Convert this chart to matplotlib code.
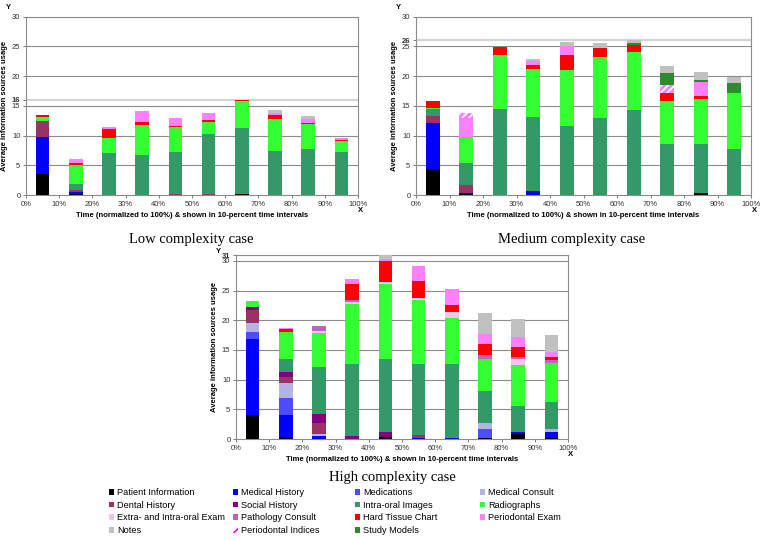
import matplotlib
matplotlib.use('Agg')
import matplotlib.pyplot as plt
from matplotlib.patches import Patch
from matplotlib import font_manager
import numpy as np

plt.rcParams['hatch.linewidth'] = 1.2

categories = ['Patient Information', 'Medical History', 'Medications', 'Medical Consult',
              'Dental History', 'Social History', 'Intra-oral Images', 'Radiographs',
              'Extra- and Intra-oral Exam', 'Pathology Consult', 'Hard Tissue Chart',
              'Periodontal Exam', 'Notes', 'Periodontal Indices', 'Study Models']
colors = ['#000000', '#0000ff', '#4d4dff', '#b3b3e6', '#993366', '#800080', '#339966',
          '#33ff33', '#f0c4ec', '#bb66bb', '#ff0000', '#ff80ff', '#c0c0c0', '#ff80ff',
          '#2d8a2d']
stack_order = [0, 1, 2, 3, 4, 5, 6, 7, 8, 9, 10, 11, 13, 14, 12]

x_pos = [5, 15, 25, 35, 45, 55, 65, 75, 85, 95]
xtick_vals = [0, 10, 20, 30, 40, 50, 60, 70, 80, 90, 100]
xtick_labels = ['0%', '10%', '20%', '30%', '40%', '50%', '60%', '70%', '80%', '90%', '100%']

# each row: one time interval, 15 category values (order of `categories`)
low_bars = [
    [3.5, 6.3, 0, 0, 2.6, 0, 0, 0.8, 0, 0, 0.2, 0, 0, 0, 0],
    [0.1, 0.35, 0, 0, 0.4, 0, 0.95, 3.25, 0, 0, 0.4, 0.6, 0, 0, 0],
    [0, 0, 0, 0, 0, 0, 7.07, 2.46, 0, 0, 1.63, 0.23, 0, 0, 0],
    [0, 0, 0, 0, 0, 0, 6.79, 4.99, 0, 0, 0.56, 1.74, 0, 0, 0],
    [0, 0, 0, 0, 0.15, 0, 7.03, 4.21, 0, 0, 0.28, 1.29, 0, 0, 0],
    [0, 0, 0, 0, 0.2, 0, 10.12, 2.02, 0, 0, 0.28, 1.18, 0, 0, 0],
    [0.25, 0, 0, 0, 0, 0, 10.97, 4.6, 0, 0, 0.18, 0, 0, 0, 0],
    [0, 0, 0, 0, 0, 0, 7.35, 5.38, 0, 0, 0.73, 0.34, 0.56, 0, 0],
    [0, 0, 0, 0, 0, 0, 7.74, 4.26, 0, 0, 0.17, 0.67, 0.45, 0, 0],
    [0, 0, 0, 0, 0, 0, 7.18, 1.91, 0, 0, 0.22, 0.34, 0, 0, 0],
]
medium_bars = [
    [4.37, 7.69, 0, 0, 1.29, 0, 1.06, 0.15, 0, 0, 1.26, 0, 0, 0, 0],
    [0.1, 0.2, 0, 0, 1.38, 0, 3.65, 4.37, 0, 0, 0, 3.2, 0, 0.9, 0],
    [0, 0, 0, 0, 0, 0, 14.47, 9.09, 0, 0, 1.4, 0, 0, 0, 0],
    [0, 0.67, 0, 0, 0, 0, 12.51, 7.96, 0, 0, 0.79, 0.56, 0.45, 0, 0],
    [0, 0, 0, 0, 0, 0, 11.55, 9.48, 0, 0, 2.47, 1.57, 0.63, 0, 0],
    [0, 0, 0, 0, 0, 0, 13.01, 10.21, 0, 0, 1.51, 0, 0.9, 0, 0],
    [0, 0, 0, 0, 0, 0, 14.3, 9.82, 0, 0, 1.12, 0, 0.48, 0, 0.28],
    [0, 0, 0, 0, 0, 0, 8.58, 7.24, 0, 0, 1.28, 0, 1.07, 1.4, 2.08],
    [0.28, 0, 0, 0, 0, 0, 8.3, 7.52, 0, 0, 0.56, 2.41, 1.29, 0, 0.28],
    [0, 0, 0, 0, 0, 0, 7.68, 9.54, 0, 0, 0, 0, 1.01, 0, 1.68],
]
high_bars = [
    [3.99, 12.86, 1.24, 1.46, 2.14, 0.56, 0, 1.01, 0, 0, 0, 0, 0, 0, 0],
    [0.28, 3.71, 2.91, 2.6, 0.95, 0.9, 2.13, 4.61, 0, 0, 0.39, 0.22, 0, 0, 0],
    [0, 0.56, 0, 0.3, 1.78, 1.57, 7.98, 5.73, 0.23, 0.84, 0, 0, 0, 0, 0],
    [0, 0, 0, 0, 0, 0.56, 12.08, 10.16, 0.25, 0.45, 2.57, 0.9, 0, 0, 0],
    [0.28, 0, 0, 0, 0, 0.84, 12.36, 12.59, 0.43, 0, 3.56, 0.25, 0.69, 0, 0],
    [0, 0.2, 0, 0, 0.47, 0, 11.97, 10.79, 0.39, 0, 2.81, 2.58, 0, 0, 0],
    [0, 0.2, 0, 0, 0, 0, 12.38, 7.81, 1.01, 0, 1.13, 2.81, 0, 0, 0],
    [0.2, 0, 1.43, 1.01, 0, 0, 5.45, 5.39, 0, 0.62, 1.97, 1.63, 3.54, 0, 0],
    [0.79, 0.45, 0, 0, 0, 0, 4.26, 7.03, 0.95, 0.28, 1.8, 1.57, 3.09, 0, 0],
    [0.1, 1.14, 0, 0.39, 0, 0, 4.55, 6.63, 0, 0.45, 0.5, 0.9, 2.92, 0, 0],
]
max_values = [16, 26, 31]
titles = ['Low complexity case', 'Medium complexity case', 'High complexity case']
ylabel_text = 'Average information sources usage'
xlabel_text = 'Time (normalized to 100%) & shown in 10-percent time intervals'

SANS = ['Liberation Sans', 'DejaVu Sans']
SERIF = ['Liberation Serif', 'DejaVu Serif']
_names = {f.name for f in font_manager.fontManager.ttflist}
if 'Liberation Sans Narrow' in _names:
    LEG_FAMILY = ['Liberation Sans Narrow', 'Liberation Sans']
    LEG_SIZE = 7.3
else:
    LEG_FAMILY = SANS
    LEG_SIZE = 6.6

fig = plt.figure(figsize=(7.62, 5.40), dpi=100)
W, H = 762.0, 540.0

def px_rect(l, r, top, bot):
    return [l / W, 1 - bot / H, (r - l) / W, (bot - top) / H]

ax_specs = [
    (px_rect(26, 358, 16.7, 195), 30),
    (px_rect(416, 751, 16.7, 195), 30),
    (px_rect(236, 568, 255, 439), 31),
]
datas = [low_bars, medium_bars, high_bars]
title_pos = [(191, 240), (572, 240), (392, 477)]

for (rect, ytop), bars, mx, title, tpos in zip(ax_specs, datas, max_values, titles, title_pos):
    ax = fig.add_axes(rect)
    arr = np.array(bars).T  # categories x intervals
    bottom = np.zeros(len(x_pos))
    for ci in stack_order:
        vals = arr[ci]
        if ci == 13:
            ax.bar(x_pos, vals, width=4.1, bottom=bottom, color=colors[ci],
                   hatch='/////', edgecolor='white', linewidth=0, zorder=3)
        else:
            ax.bar(x_pos, vals, width=4.1, bottom=bottom, color=colors[ci],
                   linewidth=0, zorder=3)
        bottom = bottom + vals
    ax.set_xlim(0, 100)
    ax.set_ylim(0, ytop)
    for yv in [5, 10, 15, 20, 25, 30]:
        ax.axhline(yv, color='#8c8c8c', lw=0.8, zorder=1)
    ax.axhline(mx, color='#d4d4d4', lw=1.6, zorder=1)
    yt = [0, 5, 10, 15, 20, 25, 30]
    if mx not in yt:
        yt = yt + [mx]
    ax.set_yticks(yt)
    ax.set_yticklabels([str(v) for v in yt], fontsize=5.5, family=SANS, color='#333333')
    for lab, v in zip(ax.get_yticklabels(), yt):
        if v == mx:
            lab.set_fontweight('bold')
    ax.set_xticks(xtick_vals)
    ax.set_xticklabels(xtick_labels, fontsize=5.5, family=SANS, color='#333333')
    ax.tick_params(axis='both', length=2, width=0.6, color='#666666', pad=2)
    for sp in ax.spines.values():
        sp.set_color('#8c8c8c')
        sp.set_linewidth(0.8)
    ax.set_xlabel(xlabel_text, fontsize=5.5, fontweight='bold', family=SANS, labelpad=3)
    ax.set_ylabel(ylabel_text, fontsize=5.5, fontweight='bold', family=SANS)
    axw = rect[2] * W
    axh = rect[3] * H
    ax.yaxis.set_label_coords(-18 / axw, 0.5)
    y30_frac = 30.0 / ytop
    ax.text(-18 / axw, y30_frac + 9 / axh, 'Y', transform=ax.transAxes, fontsize=5.5,
            fontweight='bold', family=SANS, ha='center', va='center')
    ax.text(1 + 3 / axw, -16 / axh, 'X', transform=ax.transAxes, fontsize=5.5,
            fontweight='bold', family=SANS, ha='center', va='center')
    fig.text(tpos[0] / W, 1 - tpos[1] / H, title, fontsize=10.5, family=SERIF,
             ha='center', va='center')

# legend: 4 columns laid out row-wise
handles = []
for i, (c, col) in enumerate(zip(categories, colors)):
    if i == 13:
        handles.append(Patch(facecolor='white', edgecolor='#ff00ff', hatch='////', lw=0))
    else:
        handles.append(Patch(facecolor=col, lw=0))
col_x = [109, 233, 355, 480]
for k in range(4):
    idx = list(range(k, len(categories), 4))
    fig.legend([handles[i] for i in idx], [categories[i] for i in idx],
               loc='upper left', bbox_to_anchor=(col_x[k] / W, 1 - 488 / H),
               frameon=False, handlelength=0.55, handleheight=0.55,
               handletextpad=0.35, labelspacing=0.4, borderpad=0, borderaxespad=0,
               prop={'family': LEG_FAMILY, 'size': LEG_SIZE})

fig.savefig('out.png', dpi=100)
